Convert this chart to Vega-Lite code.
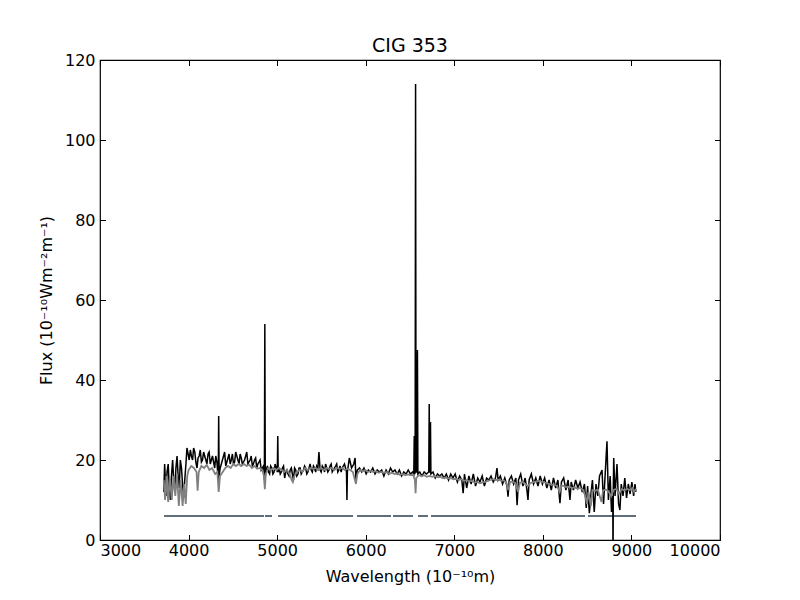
{
  "$schema": "https://vega.github.io/schema/vega-lite/v6.json",
  "width": 620,
  "height": 480,
  "autosize": {"type": "none"},
  "padding": {"left": 100, "top": 60, "right": 80, "bottom": 60},
  "title": {"text": "CIG 353", "fontSize": 19, "font": "DejaVu Sans", "fontWeight": "normal", "color": "black", "offset": -4},
  "config": {
    "view": {"stroke": "black", "strokeWidth": 1.2},
    "axis": {
      "font": "DejaVu Sans", "labelFont": "DejaVu Sans", "titleFont": "DejaVu Sans",
      "labelFontSize": 16, "titleFontSize": 16, "titleFontWeight": "normal",
      "labelColor": "black", "titleColor": "black", "tickColor": "black",
      "tickSize": -5.5, "tickWidth": 1, "domain": false, "grid": false, "format": "d"
    }
  },
  "datasets": {
    "obs": [
      {"w":3720,"f":12},{"w":3730,"f":19},{"w":3745,"f":11},{"w":3757,"f":17},{"w":3770,"f":19},{"w":3782,"f":13},{"w":3795,"f":10},{"w":3807,"f":16},{"w":3820,"f":20},{"w":3832,"f":15},{"w":3845,"f":12},{"w":3857,"f":18},{"w":3870,"f":21},{"w":3882,"f":16},{"w":3895,"f":13},{"w":3907,"f":20},{"w":3920,"f":18},{"w":3932,"f":14},{"w":3945,"f":10.5},{"w":3957,"f":15},{"w":3970,"f":19},{"w":3982,"f":23},{"w":3995,"f":21.5},{"w":4007,"f":20},{"w":4020,"f":22.5},{"w":4032,"f":21},{"w":4045,"f":20},{"w":4057,"f":23},{"w":4070,"f":22},{"w":4082,"f":19.5},{"w":4095,"f":18},{"w":4107,"f":20.5},{"w":4120,"f":21},{"w":4132,"f":22.5},{"w":4145,"f":19.5},{"w":4157,"f":20},{"w":4170,"f":22},{"w":4182,"f":21},{"w":4195,"f":20},{"w":4207,"f":19},{"w":4220,"f":21.5},{"w":4232,"f":22},{"w":4245,"f":19},{"w":4257,"f":20},{"w":4270,"f":21},{"w":4282,"f":19.5},{"w":4295,"f":18},{"w":4307,"f":21},{"w":4320,"f":19.5},{"w":4335,"f":15},{"w":4340,"f":31},{"w":4345,"f":16},{"w":4357,"f":18},{"w":4370,"f":19},{"w":4382,"f":20},{"w":4395,"f":21},{"w":4407,"f":22},{"w":4420,"f":18.5},{"w":4432,"f":19.5},{"w":4445,"f":20.5},{"w":4457,"f":21.5},{"w":4470,"f":19},{"w":4482,"f":20},{"w":4495,"f":21.5},{"w":4507,"f":19},{"w":4520,"f":19.5},{"w":4532,"f":22},{"w":4545,"f":21},{"w":4557,"f":20},{"w":4570,"f":19},{"w":4582,"f":21.5},{"w":4595,"f":20.5},{"w":4607,"f":19},{"w":4620,"f":19.5},{"w":4632,"f":20},{"w":4645,"f":21},{"w":4657,"f":22},{"w":4670,"f":19},{"w":4682,"f":19.5},{"w":4695,"f":20},{"w":4707,"f":21},{"w":4720,"f":18.5},{"w":4732,"f":19},{"w":4745,"f":20},{"w":4757,"f":20.5},{"w":4770,"f":18},{"w":4782,"f":19},{"w":4795,"f":19.5},{"w":4807,"f":20},{"w":4820,"f":17.5},{"w":4832,"f":18},{"w":4845,"f":18.5},{"w":4856,"f":15},{"w":4861,"f":54},{"w":4866,"f":16},{"w":4878,"f":17.5},{"w":4890,"f":18.5},{"w":4902,"f":17},{"w":4915,"f":16.5},{"w":4927,"f":18.5},{"w":4940,"f":18},{"w":4952,"f":16.5},{"w":4965,"f":17},{"w":4977,"f":19},{"w":4990,"f":18},{"w":5002,"f":17},{"w":5007,"f":26},{"w":5012,"f":17},{"w":5022,"f":18},{"w":5035,"f":16.5},{"w":5047,"f":17},{"w":5060,"f":18},{"w":5072,"f":18.5},{"w":5085,"f":15.5},{"w":5097,"f":17},{"w":5110,"f":17.5},{"w":5122,"f":16.5},{"w":5135,"f":16},{"w":5147,"f":17.5},{"w":5160,"f":18},{"w":5172,"f":16.5},{"w":5185,"f":15},{"w":5197,"f":18},{"w":5210,"f":17.5},{"w":5222,"f":16},{"w":5235,"f":16.5},{"w":5247,"f":18},{"w":5260,"f":18},{"w":5272,"f":16.5},{"w":5285,"f":17},{"w":5297,"f":17.5},{"w":5310,"f":18.5},{"w":5322,"f":18},{"w":5335,"f":16.5},{"w":5347,"f":17},{"w":5360,"f":18},{"w":5372,"f":19},{"w":5385,"f":17.5},{"w":5397,"f":17},{"w":5410,"f":18.5},{"w":5422,"f":18},{"w":5435,"f":17},{"w":5447,"f":18.5},{"w":5460,"f":18},{"w":5472,"f":22},{"w":5485,"f":17.5},{"w":5497,"f":17},{"w":5510,"f":18.5},{"w":5522,"f":18},{"w":5535,"f":17},{"w":5547,"f":19},{"w":5560,"f":18},{"w":5572,"f":17},{"w":5585,"f":17.5},{"w":5597,"f":18.5},{"w":5610,"f":19},{"w":5622,"f":17},{"w":5635,"f":17.5},{"w":5647,"f":18},{"w":5660,"f":18.5},{"w":5672,"f":19},{"w":5685,"f":17},{"w":5697,"f":17.5},{"w":5710,"f":18.5},{"w":5722,"f":17},{"w":5735,"f":18},{"w":5747,"f":18.5},{"w":5760,"f":19},{"w":5772,"f":18},{"w":5783,"f":17},{"w":5788,"f":10},{"w":5793,"f":17},{"w":5815,"f":20.5},{"w":5840,"f":18},{"w":5865,"f":19},{"w":5880,"f":20.5},{"w":5890,"f":15},{"w":5905,"f":17.5},{"w":5930,"f":18},{"w":5955,"f":17},{"w":5980,"f":18},{"w":6005,"f":16.5},{"w":6030,"f":17.5},{"w":6055,"f":17},{"w":6080,"f":18},{"w":6105,"f":16.5},{"w":6130,"f":17.5},{"w":6155,"f":17},{"w":6180,"f":17.5},{"w":6205,"f":16},{"w":6230,"f":17.5},{"w":6255,"f":16.5},{"w":6280,"f":18},{"w":6305,"f":17},{"w":6330,"f":17.5},{"w":6355,"f":16.5},{"w":6380,"f":17.5},{"w":6405,"f":16},{"w":6430,"f":17},{"w":6455,"f":16.5},{"w":6480,"f":17.5},{"w":6505,"f":16.5},{"w":6530,"f":17},{"w":6543,"f":16.5},{"w":6548,"f":26},{"w":6553,"f":16.5},{"w":6558,"f":17},{"w":6563,"f":114},{"w":6568,"f":17},{"w":6579,"f":17},{"w":6584,"f":47.5},{"w":6589,"f":16.5},{"w":6610,"f":17},{"w":6635,"f":16},{"w":6660,"f":17},{"w":6685,"f":16.5},{"w":6712,"f":17},{"w":6717,"f":34},{"w":6722,"f":17},{"w":6726,"f":17},{"w":6731,"f":29.5},{"w":6736,"f":16.5},{"w":6760,"f":17},{"w":6785,"f":15.5},{"w":6810,"f":16.5},{"w":6835,"f":16},{"w":6860,"f":16.5},{"w":6885,"f":15.5},{"w":6910,"f":16.5},{"w":6935,"f":15},{"w":6960,"f":16.5},{"w":6985,"f":15.5},{"w":7010,"f":16.5},{"w":7035,"f":14.5},{"w":7060,"f":16},{"w":7085,"f":15},{"w":7100,"f":11.7},{"w":7115,"f":16.5},{"w":7140,"f":13},{"w":7165,"f":16},{"w":7190,"f":14},{"w":7215,"f":16.5},{"w":7240,"f":13.5},{"w":7265,"f":15.5},{"w":7290,"f":14.5},{"w":7315,"f":16},{"w":7340,"f":13.5},{"w":7365,"f":15.5},{"w":7390,"f":15},{"w":7415,"f":16},{"w":7440,"f":14.5},{"w":7465,"f":15.5},{"w":7482,"f":18},{"w":7495,"f":15},{"w":7520,"f":16},{"w":7545,"f":14},{"w":7570,"f":15.5},{"w":7595,"f":13.5},{"w":7607,"f":10.8},{"w":7620,"f":15},{"w":7645,"f":16},{"w":7670,"f":14},{"w":7695,"f":15.5},{"w":7709,"f":8.7},{"w":7725,"f":15},{"w":7750,"f":16.5},{"w":7775,"f":13.5},{"w":7800,"f":15.5},{"w":7820,"f":12.5},{"w":7832,"f":10},{"w":7845,"f":15},{"w":7870,"f":16.5},{"w":7895,"f":14},{"w":7920,"f":15.5},{"w":7945,"f":13.5},{"w":7970,"f":16},{"w":7995,"f":14},{"w":8020,"f":15.5},{"w":8045,"f":13},{"w":8070,"f":15},{"w":8095,"f":12.5},{"w":8120,"f":15.5},{"w":8145,"f":13},{"w":8170,"f":15},{"w":8193,"f":9.2},{"w":8210,"f":14.5},{"w":8235,"f":15.5},{"w":8260,"f":12.5},{"w":8285,"f":15},{"w":8306,"f":10},{"w":8320,"f":14.5},{"w":8345,"f":12.5},{"w":8370,"f":15},{"w":8395,"f":13},{"w":8420,"f":14.5},{"w":8445,"f":12},{"w":8470,"f":14},{"w":8490,"f":8},{"w":8505,"f":13.5},{"w":8525,"f":6.7},{"w":8545,"f":12},{"w":8560,"f":15},{"w":8580,"f":7},{"w":8600,"f":14},{"w":8620,"f":11},{"w":8640,"f":16},{"w":8668,"f":17.5},{"w":8685,"f":9},{"w":8700,"f":15},{"w":8724,"f":24.7},{"w":8740,"f":10},{"w":8760,"f":16},{"w":8775,"f":7},{"w":8790,"f":11},{"w":8792,"f":-8},{"w":8795,"f":12},{"w":8800,"f":20.5},{"w":8815,"f":11},{"w":8837,"f":19},{"w":8855,"f":9},{"w":8870,"f":7.5},{"w":8885,"f":14},{"w":8905,"f":11},{"w":8925,"f":15.5},{"w":8945,"f":10.5},{"w":8965,"f":14},{"w":8985,"f":11.5},{"w":9005,"f":14.5},{"w":9025,"f":11},{"w":9040,"f":14},{"w":9050,"f":12}
    ],
    "model": [
      {"w":3720,"f":15},{"w":3735,"f":10},{"w":3750,"f":16},{"w":3770,"f":9.5},{"w":3790,"f":15.5},{"w":3810,"f":10},{"w":3830,"f":16},{"w":3850,"f":11},{"w":3870,"f":16.5},{"w":3890,"f":8.5},{"w":3910,"f":15},{"w":3933,"f":8.5},{"w":3950,"f":14},{"w":3968,"f":9},{"w":3985,"f":16},{"w":4000,"f":17.5},{"w":4030,"f":18.5},{"w":4060,"f":18},{"w":4090,"f":17},{"w":4102,"f":12.3},{"w":4115,"f":17},{"w":4145,"f":18.5},{"w":4175,"f":18},{"w":4205,"f":18.8},{"w":4235,"f":17.5},{"w":4265,"f":18},{"w":4300,"f":16.5},{"w":4325,"f":17},{"w":4340,"f":12},{"w":4355,"f":16},{"w":4385,"f":17},{"w":4415,"f":18},{"w":4445,"f":18.5},{"w":4475,"f":18},{"w":4505,"f":19},{"w":4535,"f":18.5},{"w":4565,"f":19},{"w":4595,"f":18.5},{"w":4625,"f":19},{"w":4655,"f":18.5},{"w":4685,"f":18.8},{"w":4715,"f":18},{"w":4745,"f":18.5},{"w":4775,"f":17.8},{"w":4805,"f":18},{"w":4835,"f":17.5},{"w":4850,"f":16},{"w":4861,"f":12.7},{"w":4872,"f":16.5},{"w":4900,"f":18},{"w":4930,"f":17.5},{"w":4960,"f":18},{"w":4990,"f":17.5},{"w":5020,"f":18},{"w":5050,"f":17.5},{"w":5080,"f":17},{"w":5110,"f":17.5},{"w":5140,"f":16.5},{"w":5165,"f":15},{"w":5178,"f":14.5},{"w":5195,"f":16},{"w":5225,"f":17},{"w":5255,"f":17.5},{"w":5285,"f":17},{"w":5315,"f":18},{"w":5345,"f":17.5},{"w":5375,"f":18},{"w":5405,"f":17.8},{"w":5435,"f":18},{"w":5465,"f":17.5},{"w":5495,"f":18},{"w":5525,"f":17.5},{"w":5555,"f":18},{"w":5585,"f":17.8},{"w":5615,"f":18},{"w":5645,"f":17.5},{"w":5675,"f":18},{"w":5705,"f":17.8},{"w":5735,"f":18},{"w":5765,"f":17.5},{"w":5795,"f":17.8},{"w":5825,"f":17.5},{"w":5855,"f":17},{"w":5878,"f":15},{"w":5890,"f":14},{"w":5905,"f":16.5},{"w":5935,"f":17.5},{"w":5965,"f":17.2},{"w":5995,"f":17.5},{"w":6025,"f":17},{"w":6055,"f":17.3},{"w":6085,"f":17},{"w":6115,"f":17.2},{"w":6145,"f":16.8},{"w":6175,"f":17},{"w":6205,"f":16.8},{"w":6235,"f":17},{"w":6265,"f":16.5},{"w":6295,"f":16.8},{"w":6325,"f":16.5},{"w":6355,"f":16.7},{"w":6385,"f":16.3},{"w":6415,"f":16.5},{"w":6445,"f":16.2},{"w":6475,"f":16.4},{"w":6505,"f":16.2},{"w":6535,"f":16.3},{"w":6555,"f":15},{"w":6563,"f":11.7},{"w":6571,"f":15.5},{"w":6600,"f":16.2},{"w":6630,"f":16},{"w":6660,"f":16.2},{"w":6690,"f":15.8},{"w":6720,"f":16},{"w":6750,"f":15.8},{"w":6780,"f":16},{"w":6810,"f":15.7},{"w":6840,"f":15.8},{"w":6870,"f":15.5},{"w":6900,"f":15.6},{"w":6930,"f":15.4},{"w":6960,"f":15.5},{"w":6990,"f":15.2},{"w":7020,"f":15.3},{"w":7050,"f":15},{"w":7080,"f":15.2},{"w":7110,"f":14.8},{"w":7140,"f":15},{"w":7170,"f":14.6},{"w":7200,"f":14.8},{"w":7230,"f":14.3},{"w":7260,"f":14.5},{"w":7290,"f":14.2},{"w":7320,"f":14.4},{"w":7350,"f":14.5},{"w":7380,"f":14.8},{"w":7410,"f":15},{"w":7440,"f":15.2},{"w":7470,"f":15},{"w":7500,"f":15.1},{"w":7530,"f":14.8},{"w":7560,"f":14.9},{"w":7590,"f":14.2},{"w":7610,"f":12.5},{"w":7630,"f":14.5},{"w":7660,"f":14.6},{"w":7690,"f":14.2},{"w":7720,"f":12},{"w":7740,"f":14.3},{"w":7770,"f":14.5},{"w":7800,"f":14},{"w":7830,"f":13.5},{"w":7860,"f":14.2},{"w":7890,"f":14.5},{"w":7920,"f":14.6},{"w":7950,"f":14.8},{"w":7980,"f":14.6},{"w":8010,"f":14.5},{"w":8040,"f":14.2},{"w":8070,"f":14},{"w":8100,"f":13.8},{"w":8130,"f":13.9},{"w":8160,"f":13.5},{"w":8190,"f":12},{"w":8210,"f":13.6},{"w":8240,"f":13.5},{"w":8270,"f":13.2},{"w":8300,"f":13.3},{"w":8330,"f":13},{"w":8360,"f":13.2},{"w":8390,"f":12.8},{"w":8420,"f":13},{"w":8450,"f":12.6},{"w":8480,"f":11},{"w":8498,"f":9},{"w":8515,"f":12},{"w":8542,"f":8.5},{"w":8560,"f":12.5},{"w":8590,"f":12.3},{"w":8620,"f":12.6},{"w":8662,"f":9.5},{"w":8680,"f":12.4},{"w":8710,"f":12.6},{"w":8740,"f":12.2},{"w":8770,"f":11},{"w":8800,"f":12.5},{"w":8830,"f":12.8},{"w":8860,"f":11.5},{"w":8890,"f":12.7},{"w":8920,"f":12.4},{"w":8950,"f":12.8},{"w":8980,"f":12.5},{"w":9010,"f":13},{"w":9030,"f":12},{"w":9050,"f":12.8}
    ],
    "mask": [
      {"w":3723,"f":6,"g":1},{"w":4852,"f":6,"g":1},
      {"w":4863,"f":6,"g":2},{"w":4942,"f":6,"g":2},
      {"w":5010,"f":6,"g":3},{"w":5857,"f":6,"g":3},
      {"w":5902,"f":6,"g":4},{"w":6286,"f":6,"g":4},
      {"w":6308,"f":6,"g":5},{"w":6534,"f":6,"g":5},
      {"w":6590,"f":6,"g":6},{"w":6703,"f":6,"g":6},
      {"w":6737,"f":6,"g":7},{"w":8476,"f":6,"g":7},
      {"w":8510,"f":6,"g":8},{"w":9052,"f":6,"g":8}
    ]
  },
  "layer": [
    {
      "data": {"name": "mask"},
      "mark": {"type": "line", "color": "#5f6e78", "strokeWidth": 2, "clip": true},
      "encoding": {
        "x": {"field": "w", "type": "quantitative", "scale": {"domain": [3000, 10000], "nice": false},
          "axis": {"orient": "bottom", "title": "Wavelength (10⁻¹⁰m)", "values": [3000, 4000, 5000, 6000, 7000, 8000, 9000, 10000], "labelPadding": 7.5, "titlePadding": 10}},
        "y": {"field": "f", "type": "quantitative", "scale": {"domain": [0, 120], "nice": false},
          "axis": {"orient": "left", "title": "Flux (10⁻¹⁰Wm⁻²m⁻¹)", "values": [0, 20, 40, 60, 80, 100, 120], "labelPadding": 10.5, "titlePadding": 10}},
        "detail": {"field": "g", "type": "nominal"}
      }
    },
    {
      "data": {"name": "obs"},
      "mark": {"type": "line", "color": "black", "strokeWidth": 1.5, "clip": true},
      "encoding": {
        "x": {"field": "w", "type": "quantitative",
          "axis": {"orient": "top", "labels": false, "title": null, "values": [3000, 4000, 5000, 6000, 7000, 8000, 9000, 10000]}},
        "y": {"field": "f", "type": "quantitative",
          "axis": {"orient": "right", "labels": false, "title": null, "values": [0, 20, 40, 60, 80, 100, 120]}}
      }
    },
    {
      "data": {"name": "model"},
      "mark": {"type": "line", "color": "#808080", "strokeWidth": 1.8, "clip": true},
      "encoding": {
        "x": {"field": "w", "type": "quantitative", "axis": null},
        "y": {"field": "f", "type": "quantitative", "axis": null}
      }
    }
  ],
  "resolve": {"axis": {"x": "independent", "y": "independent"}}
}
